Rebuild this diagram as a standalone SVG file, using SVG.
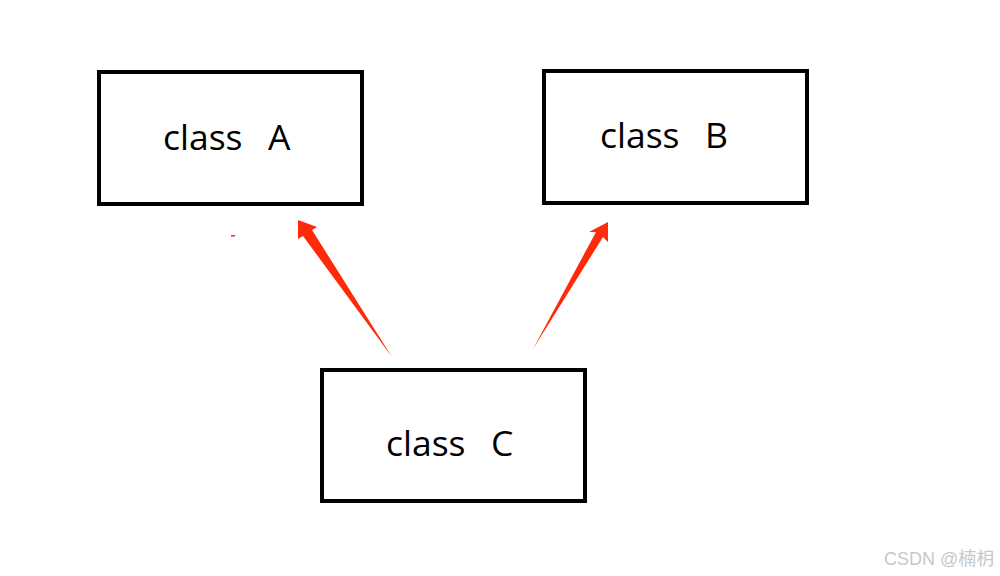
<svg xmlns="http://www.w3.org/2000/svg" width="1000" height="576" viewBox="0 0 1000 576">
<style>
.box{fill:#fff;stroke:#000;stroke-width:4}
.lbl{font-family:"Open Sans","Noto Sans",sans-serif;font-size:35.5px;fill:#000;white-space:pre}
.arr{fill:#ff2a0a}
</style>
<rect width="1000" height="576" fill="#fff"/>
<g id="nodeA"><rect class="box" x="99" y="72" width="263" height="132"/><text class="lbl" x="163" y="150" xml:space="preserve">class  <tspan dx="7">A</tspan></text></g>
<g id="nodeB"><rect class="box" x="544" y="71" width="263" height="132"/><text class="lbl" x="600" y="148" xml:space="preserve">class  <tspan dx="7">B</tspan></text></g>
<g id="nodeC"><rect class="box" x="322" y="370" width="263" height="131"/><text class="lbl" x="386" y="456" xml:space="preserve">class  <tspan dx="7">C</tspan></text></g>
<g id="connectors">
<polygon class="arr" points="298,220 317,227 312,230 392,357 303,236 298,239"/>
<polygon class="arr" points="608,222 608,242 603,237 533,349 596,232 589,232"/>
<rect class="arr" x="231" y="235" width="4" height="1.5"/>
</g>
<text x="884" y="565" font-family="Liberation Sans,Arial,'Noto Sans CJK SC',sans-serif" font-size="18" fill="#c8c8c8">CSDN @楠枂</text>
</svg>
